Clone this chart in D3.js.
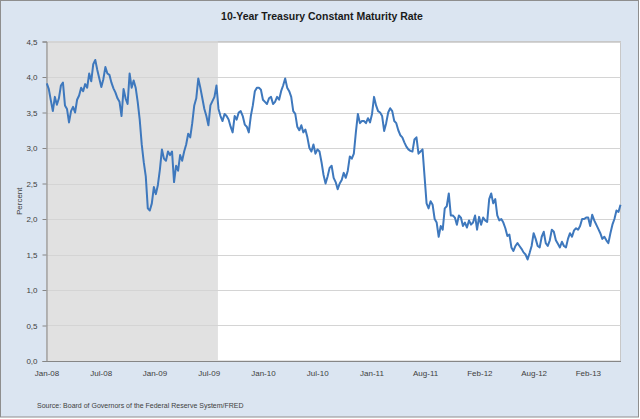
<!DOCTYPE html>
<html><head><meta charset="utf-8">
<script src="https://cdn.jsdelivr.net/npm/d3@7"></script>
<style>body{margin:0;background:#fff;} svg{display:block;}</style>
</head><body>
<svg id="c" width="640" height="419"></svg>
<script>
const titleText = "10-Year Treasury Constant Maturity Rate";
const sourceText = "Source: Board of Governors of the Federal Reserve System/FRED";
const yLabel = "Percent";
const seriesStart = "2008-01-02"; // weekly observations
const yields2008 = [3.91,3.83,3.67,3.52,3.72,3.61,3.70,3.88,3.92,3.60,3.55,3.36,3.52,3.58,3.50,3.68,3.74,3.85,3.80,3.90,3.85,4.05,3.94,4.18,4.24,4.10,3.98,3.86,3.97,4.14,4.05,4.03,3.92,3.84,3.78,3.70,3.65,3.45,3.83,3.70,3.62,4.05,3.85,3.95,3.85,3.65,3.40,3.05,2.80,2.60,2.15,2.12,2.22];
const yields2009 = [2.45,2.35,2.48,2.70,2.98,2.85,2.82,2.95,2.90,2.95,2.52,2.75,2.68,2.90,2.82,2.95,3.05,3.20,3.15,3.35,3.60,3.70,3.98,3.85,3.70,3.55,3.45,3.32,3.60,3.66,3.72,3.88,3.55,3.45,3.38,3.48,3.45,3.40,3.30,3.22,3.45,3.40,3.50,3.52,3.45,3.33,3.30,3.22,3.45,3.60,3.80,3.85];
const yields2010 = [3.85,3.82,3.68,3.65,3.62,3.70,3.72,3.62,3.65,3.72,3.68,3.80,3.88,3.98,3.85,3.80,3.72,3.52,3.48,3.30,3.25,3.32,3.22,3.26,3.15,3.00,2.95,3.05,2.92,2.98,2.95,2.80,2.62,2.50,2.60,2.72,2.75,2.58,2.52,2.42,2.50,2.55,2.65,2.58,2.68,2.88,2.85,2.92,3.22,3.48,3.35,3.38];
const yields2011 = [3.38,3.35,3.42,3.36,3.48,3.72,3.60,3.52,3.50,3.45,3.24,3.35,3.50,3.56,3.52,3.38,3.35,3.25,3.18,3.15,3.08,3.02,2.98,2.96,2.95,3.12,3.15,2.92,2.95,2.98,2.60,2.22,2.15,2.25,2.20,2.00,1.95,1.75,1.90,1.85,2.15,2.18,2.36,2.05,2.05,2.02,1.92,2.05,2.02,1.90,1.95,1.88];
const yields2012 = [1.98,1.92,1.95,2.05,1.85,2.03,1.92,2.02,1.98,1.96,2.28,2.36,2.22,2.28,2.05,1.98,2.00,1.95,1.87,1.76,1.78,1.60,1.55,1.62,1.66,1.62,1.58,1.53,1.50,1.43,1.52,1.62,1.80,1.72,1.62,1.60,1.75,1.82,1.66,1.62,1.70,1.85,1.82,1.70,1.65,1.60,1.68,1.62,1.60,1.72,1.80,1.75];
const yields2013 = [1.84,1.87,1.85,1.90,2.00,2.00,2.02,2.02,1.90,2.06,1.98,1.92,1.86,1.80,1.72,1.75,1.70,1.66,1.80,1.92,2.00,2.12,2.10,2.20];
const xDomain = ["2008-01-01","2013-06-12"];
const xTickDates = ["2008-01-01","2008-07-07","2009-01-09","2009-07-16","2010-01-20","2010-07-27","2011-01-31","2011-08-05","2012-02-09","2012-08-15","2013-02-19"];
const yTicks = [0,0.5,1,1.5,2,2.5,3,3.5,4,4.5];
const recessionSpan = ["2008-01-01","2009-08-17"];

const parse = d3.timeParse("%Y-%m-%d");
const allYields = [].concat(yields2008, yields2009, yields2010, yields2011, yields2012, yields2013);
const start = parse(seriesStart);
const data = allYields.map((v,i) => ({date: d3.timeDay.offset(start, 7*i), value: v}));

const W = 640, H = 419;
const plot = {left: 46.5, right: 620.5, top: 41.5, bottom: 361};
const svg = d3.select("#c");
const font = "'Liberation Sans Narrow','Liberation Sans',Arial,sans-serif";

svg.append("rect").attr("x",0.5).attr("y",0.5).attr("width",W-2).attr("height",H-2.5)
  .attr("fill","#dbe5f1").attr("stroke","#8e8e8e");

const x = d3.scaleTime().domain(xDomain.map(parse)).range([plot.left, plot.right]);
const y = d3.scaleLinear().domain([0,4.5]).range([plot.bottom, plot.top]);

svg.append("rect").attr("x",plot.left).attr("y",plot.top)
  .attr("width",plot.right-plot.left).attr("height",plot.bottom-plot.top)
  .attr("fill","#fff").attr("stroke","#c8c8c8");

svg.append("rect").attr("x",x(parse(recessionSpan[0]))).attr("y",plot.top)
  .attr("width",x(parse(recessionSpan[1]))-x(parse(recessionSpan[0])))
  .attr("height",plot.bottom-plot.top).attr("fill","#e1e1e1");

svg.append("g").selectAll("line").data(yTicks.slice(1)).join("line")
  .attr("x1",plot.left).attr("x2",plot.right)
  .attr("y1",d=>Math.round(y(d))+0.5).attr("y2",d=>Math.round(y(d))+0.5)
  .attr("stroke","#d4d4d4").attr("stroke-width",1.2);

const yAxis = svg.append("g").attr("transform",`translate(${plot.left},0)`)
  .call(d3.axisLeft(y).tickValues(yTicks).tickSize(4).tickPadding(5)
    .tickFormat(d => d.toFixed(1).replace(".",",")));
const xAxis = svg.append("g").attr("transform",`translate(0,${plot.bottom})`)
  .call(d3.axisBottom(x).tickValues(xTickDates.map(parse)).tickSize(0).tickPadding(9)
    .tickFormat(d3.timeFormat("%b-%y")));
[yAxis, xAxis].forEach(a => {
  a.select(".domain").attr("stroke","#868686");
  a.selectAll(".tick line").attr("stroke","#868686");
  a.selectAll("text").attr("font-family",font).attr("font-size","8px").attr("fill","#404040");
});

const line = d3.line().x(d=>x(d.date)).y(d=>y(d.value));
svg.append("path").datum(data).attr("d",line).attr("fill","none")
  .attr("stroke","#3e78bd").attr("stroke-width",2).attr("stroke-linejoin","round");

svg.append("text").attr("x",322).attr("y",20).attr("text-anchor","middle")
  .attr("font-family",font).attr("font-size","10.5px").attr("font-weight","bold")
  .attr("fill","#1a1a1a").text(titleText);

svg.append("text").attr("transform",`translate(22,${(plot.top+plot.bottom)/2}) rotate(-90)`)
  .attr("text-anchor","middle").attr("font-family",font).attr("font-size","8px")
  .attr("fill","#404040").text(yLabel);

svg.append("text").attr("x",37).attr("y",408).attr("font-family",font)
  .attr("font-size","7px").attr("fill","#404040").text(sourceText);
</script>
</body></html>
